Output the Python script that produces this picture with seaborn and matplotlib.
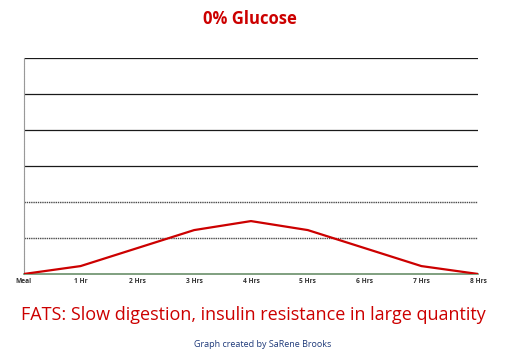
import matplotlib.pyplot as plt
import seaborn as sns
import pandas as pd

# Data:
hours = ["Meal", "1 Hr", "2 Hrs", "3 Hrs", "4 Hrs", "5 Hrs", "6 Hrs", "7 Hrs", "8 Hrs"]
glucose = [0, 0.22, 0.72, 1.22, 1.47, 1.22, 0.72, 0.22, 0]
grid_levels = [1, 2, 3, 4, 5, 6]

df = pd.DataFrame({"hour": range(len(hours)), "glucose": glucose})

sns.set_style("white")
plt.rcParams["font.family"] = ["Open Sans", "DejaVu Sans"]

fig = plt.figure(figsize=(5.06, 3.57), dpi=100)
ax = fig.add_axes([0.047, 0.2325, 0.898, 0.605])

# Gridlines:
for lvl in grid_levels:
    if lvl <= 2:
        ax.axhline(lvl, color="#4a4a4a", linestyle=(0, (1, 0.6)), linewidth=1.0, zorder=1)
    else:
        ax.axhline(lvl, color="#1a1a1a", linewidth=0.9, zorder=1)

sns.lineplot(data=df, x="hour", y="glucose", color="#CC0000", linewidth=1.6, ax=ax, zorder=3)

ax.set_xlim(0, len(hours) - 1)
ax.set_ylim(0, 6)
ax.set_xticks(range(len(hours)))
ax.set_xticklabels(hours, fontsize=4.8, fontweight="bold", color="#333333")
ax.set_yticks([])
ax.set_xlabel("")
ax.set_ylabel("")
ax.tick_params(axis="x", length=0, pad=3)
ax.spines[["top", "right"]].set_visible(False)
ax.spines["left"].set_color("#999999")
ax.spines["left"].set_linestyle((0, (1, 0.5)))
ax.spines["bottom"].set_color("#6a8f6a")
ax.spines["bottom"].set_linewidth(1.2)

# Text:
fig.text(0.494, 0.948, "0% Glucose", ha="center", va="center",
         fontsize=12, fontweight="bold", color="#CC0000")
fig.text(0.5, 0.118, "FATS: Slow digestion, insulin resistance in large quantity",
         ha="center", va="center", fontsize=13, color="#CC0000")
fig.text(0.52, 0.034, "Graph created by SaRene Brooks", ha="center", va="center",
         fontsize=6.5, color="#1F3A7A")

plt.savefig("out.png", dpi=100)
